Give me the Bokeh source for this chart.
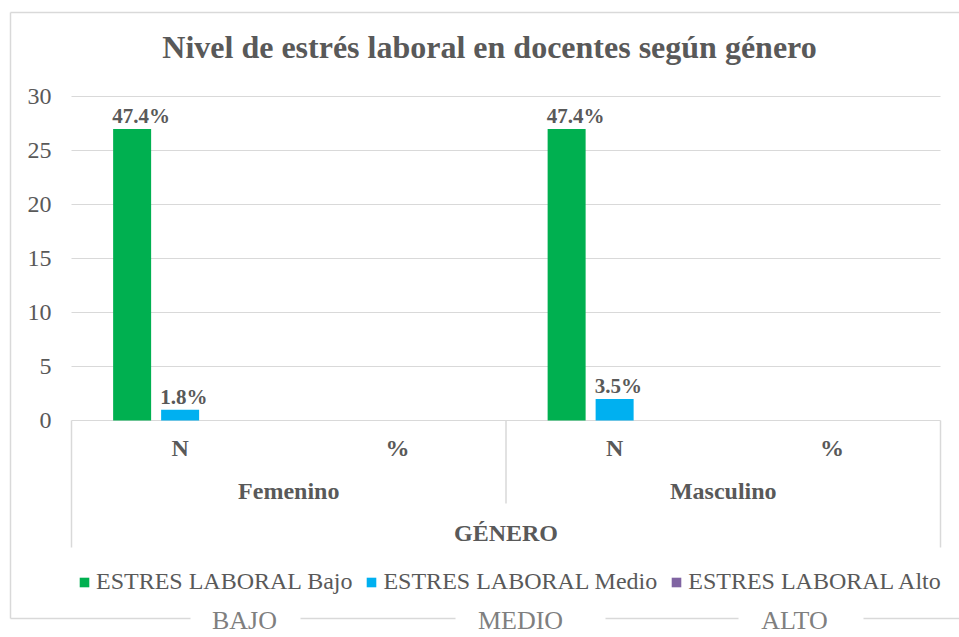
from bokeh.plotting import figure
from bokeh.models import Range1d, LinearAxis, FixedTicker, Legend, LegendItem, Grid
from bokeh.core.properties import value
from bokeh.embed import file_html
from bokeh.resources import INLINE

# ---------------- data ----------------
title = "Nivel de estrés laboral en docentes según género"
genders = ["Femenino", "Masculino"]
subcats = ["N", "%"]
axis_title = "GÉNERO"
series = ["ESTRES LABORAL Bajo", "ESTRES LABORAL Medio", "ESTRES LABORAL Alto"]
colors = ["#00B050", "#00B0F0", "#8064A2"]
bajo_n = [27, 27]
medio_n = [1, 2]
alto_n = [0, 0]
bajo_pct = ["47.4%", "47.4%"]
medio_pct = ["1.8%", "3.5%"]
alto_pct = ["", ""]
y_ticks = [0, 5, 10, 15, 20, 25, 30]
footer = ["BAJO", "MEDIO", "ALTO"]

# ---------------- layout (page pixels) ----------------
W, H = 959, 637
PX0, PY0 = 0, 0
AX0, AX1 = 71, 940          # category axis extent
Y0PX, YTOPPX = 420, 96      # value 0 and value 30
ncat = len(genders) * len(subcats)
UX = (AX1 - AX0) / ncat
UY = (Y0PX - YTOPPX) / max(y_ticks)


def X(px):
    return (px - AX0) / UX


def Y(py):
    return (Y0PX - py) / UY


FNAME = "Liberation Serif"
FONT = value(FNAME)
TXT = "#595959"
GRID = "#D9D9D9"

p = figure(width=W, height=H, min_border=0, output_backend="svg",
           toolbar_location=None, x_axis_location=None, y_axis_location=None,
           x_range=Range1d(X(PX0), X(PX0 + W)), y_range=Range1d(Y(PY0 + H), Y(PY0)))
p.center = [c for c in p.center if not isinstance(c, Grid)]
p.outline_line_color = None
p.background_fill_color = "white"
p.border_fill_color = "white"

# y axis fixed at category-axis start
yax = LinearAxis(fixed_location=0, ticker=FixedTicker(ticks=y_ticks))
yax.axis_line_color = None
yax.major_tick_line_color = None
yax.minor_tick_line_color = None
yax.major_tick_out = 0
yax.major_tick_in = 0
yax.major_label_standoff = 20
yax.major_label_text_font = FNAME
yax.major_label_text_font_size = "24px"
yax.major_label_text_color = TXT
p.add_layout(yax, "left")

# gridlines
p.segment(x0=[0] * len(y_ticks), x1=[ncat] * len(y_ticks), y0=y_ticks, y1=y_ticks,
          line_color=GRID, line_width=1)

# category box lines
gsize = len(subcats)
sep_x = [g * gsize for g in range(len(genders) + 1)]
sep_bottom = [Y(547) if (x == 0 or x == ncat) else Y(503) for x in sep_x]
p.segment(x0=sep_x, x1=sep_x, y0=[0] * len(sep_x), y1=sep_bottom, line_color=GRID, line_width=1.5)

# bars
bw = 38 / UX
step = 48 / UX
offsets = [(s - 1) * step for s in range(len(series))]
renderers = []
for s, (vals, labs) in enumerate(zip([bajo_n, medio_n, alto_n], [bajo_pct, medio_pct, alto_pct])):
    xs = [g * gsize + 0.5 + offsets[s] for g in range(len(genders))]
    r = p.vbar(x=xs, top=vals, bottom=0, width=bw, fill_color=colors[s], line_color=None)
    renderers.append(r)
    p.text(x=[x - bw / 2 - 1 / UX for x in xs], y=vals, text=labs, y_offset=-13,
           text_align="left", text_baseline="middle", text_font=FONT,
           text_font_style="bold", text_font_size="21px", text_color=TXT)

# category labels
sub_x = [g * gsize + i + 0.5 for g in range(len(genders)) for i in range(gsize)]
sub_t = [c for g in genders for c in subcats]
p.text(x=sub_x, y=[Y(447)] * len(sub_x), text=sub_t, text_align="center", text_baseline="middle",
       text_font=FONT, text_font_style="bold", text_font_size="24px", text_color=TXT)
p.text(x=[g * gsize + gsize / 2 for g in range(len(genders))], y=[Y(490)] * len(genders), text=genders,
       text_align="center", text_baseline="middle",
       text_font=FONT, text_font_style="bold", text_font_size="24px", text_color=TXT)
p.text(x=[ncat / 2], y=[Y(532)], text=[axis_title], text_align="center", text_baseline="middle",
       text_font=FONT, text_font_style="bold", text_font_size="24px", text_color=TXT)

# title
p.text(x=[X(489)], y=[Y(46)], text=[title], text_align="center", text_baseline="middle",
       text_font=FONT, text_font_style="bold", text_font_size="32px", text_color=TXT)

# legend
legend = Legend(items=[LegendItem(label=series[i], renderers=[renderers[i]]) for i in range(len(series))],
                orientation="horizontal", location=(78, 42), padding=0, margin=0, spacing=13,
                label_standoff=6, glyph_width=12, glyph_height=12,
                label_text_font=FNAME, label_text_font_size="24px", label_text_color=TXT,
                border_line_color=None, background_fill_alpha=0)
p.add_layout(legend)

# outer border with gaps for footer labels
BC = "#D9D9D9"
p.segment(x0=[X(10), X(10)], x1=[X(10), X(PX0 + W)], y0=[Y(12), Y(12)], y1=[Y(618), Y(12)],
          line_color=BC, line_width=1.5)
p.segment(x0=[X(10), X(300), X(605), X(863)], x1=[X(190), X(455), X(738), X(PX0 + W)],
          y0=[Y(618)] * 4, y1=[Y(618)] * 4, line_color=BC, line_width=1.5)
p.text(x=[X(244), X(520), X(794)], y=[Y(620)] * 3, text=footer, text_align="center",
       text_baseline="middle", text_font=FONT, text_font_size="26px", text_color="#7F7F7F")

open("out.html", "w").write(file_html(p, INLINE))
